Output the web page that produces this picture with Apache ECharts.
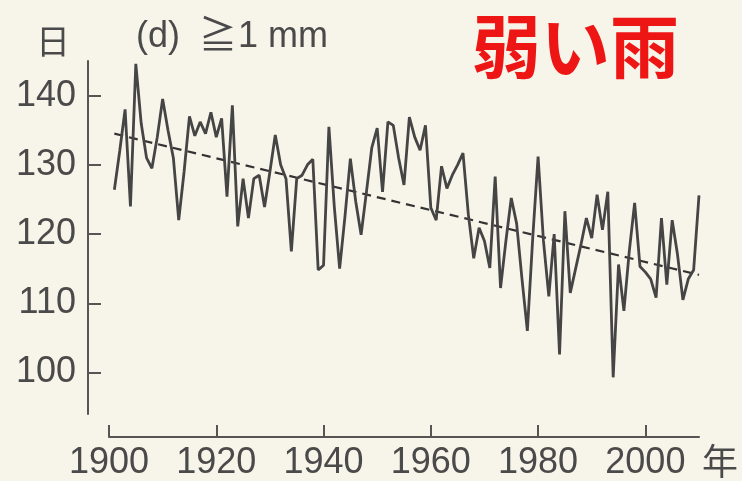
<!DOCTYPE html>
<html>
<head>
<meta charset="utf-8">
<script src="https://cdn.jsdelivr.net/npm/echarts@6/dist/echarts.min.js"></script>
<style>
  html, body { margin: 0; padding: 0; background: #f7f4e9; }
  #chart { width: 742px; height: 481px; }
</style>
</head>
<body>
<div id="chart"></div>
<script>
// Years 1901-2010
const startYear = 1901;
const days = [
  126.4, 132, 138, 124, 144.6, 136, 131, 129.5, 134, 139.5,
  135, 131, 122, 129, 137, 134.2, 136.2, 134.5, 137.6, 134,
  136.7, 125.4, 138.6, 121.1, 128, 122.3, 128, 128.5, 123.9, 129,
  134.3, 130, 128, 117.5, 128, 128.5, 130, 130.8, 114.8, 115.5,
  135.5, 124, 115, 122.6, 130.9, 124.7, 119.9, 126.1, 132.5, 135.3,
  126.1, 136.2, 135.7, 131, 127.1, 136.9, 134, 132.1, 135.7, 123.8,
  122, 129.8, 126.6, 128.5, 130, 131.7, 122.8, 116.5, 120.9, 119,
  115.1, 128.3, 112.2, 119, 125.2, 121.5, 113.5, 106, 119.4, 131.2,
  119, 111, 120, 102.6, 123.3, 111.5, 115, 118.5, 122.3, 119.4,
  125.7, 120.6, 126.1, 99.3, 115.6, 108.9, 117.5, 124.5, 115.3, 114.5,
  113.5, 110.8, 122.3, 112.7, 122, 117, 110.5, 113.5, 114.8, 125.6
];
const years = days.map((_, i) => startYear + i);
const trendYears = [1901, 2010];
const trendValues = [134.5, 114.1];
const xTicks = [1900, 1920, 1940, 1960, 1980, 2000];
const yTicks = [100, 110, 120, 130, 140];

const textColor = '#4a4a4a';
const font = 'Liberation Sans, Arial, sans-serif';
const plain = (size, family) => ({ fontSize: size, fontWeight: 'normal', color: textColor, fontFamily: family });

const chart = echarts.init(document.getElementById('chart'), null, { renderer: 'canvas' });
chart.setOption({
  backgroundColor: '#f7f4e9',
  animation: false,
  title: [
    { text: '日', left: 31, top: 19, textStyle: plain(34, 'Noto Sans CJK JP') },
    { text: '(d)', left: 131, top: 14, textStyle: plain(36, font) },
    { text: '≧', left: 194, top: 10, textStyle: plain(38, 'Noto Sans CJK JP') },
    { text: '1 mm', left: 233, top: 14, textStyle: plain(36, font) },
    { text: '弱い雨', left: 467, top: 7, textStyle: { fontSize: 69, fontWeight: 'bold', color: '#ee1515', fontFamily: 'Noto Sans CJK JP' } }
  ],
  grid: { left: 109, right: 43, top: 61, bottom: 64 },
  xAxis: {
    type: 'value', min: 1900, max: 2010, offset: 23,
    name: '年', nameLocation: 'end', nameGap: 3,
    nameTextStyle: { fontSize: 36, color: textColor, fontFamily: 'Noto Sans CJK JP', verticalAlign: 'top', padding: [6, 0, 0, 0] },
    axisLine: { lineStyle: { color: '#555', width: 2 } },
    axisTick: { show: true, inside: true, length: 12, customValues: xTicks, lineStyle: { color: '#555', width: 2 } },
    axisLabel: { customValues: xTicks, formatter: v => String(v), fontSize: 36, color: textColor, fontFamily: font, margin: 8 },
    splitLine: { show: false }
  },
  yAxis: {
    type: 'value', min: 94, max: 145, offset: 21,
    axisLine: { show: true, lineStyle: { color: '#555', width: 2 } },
    axisTick: { show: true, inside: true, length: 13, customValues: yTicks, lineStyle: { color: '#555', width: 2 } },
    axisLabel: { customValues: yTicks, formatter: v => String(v), fontSize: 36, color: textColor, fontFamily: font, margin: 12 },
    splitLine: { show: false }
  },
  series: [
    {
      type: 'line', symbol: 'none',
      data: years.map((y, i) => [y, days[i]]),
      lineStyle: { color: '#454545', width: 2.8 },
      z: 3
    },
    {
      type: 'line', symbol: 'none',
      data: trendYears.map((y, i) => [y, trendValues[i]]),
      lineStyle: { color: '#333', width: 2.2, type: [9, 6] },
      z: 2
    }
  ]
});
</script>
</body>
</html>
